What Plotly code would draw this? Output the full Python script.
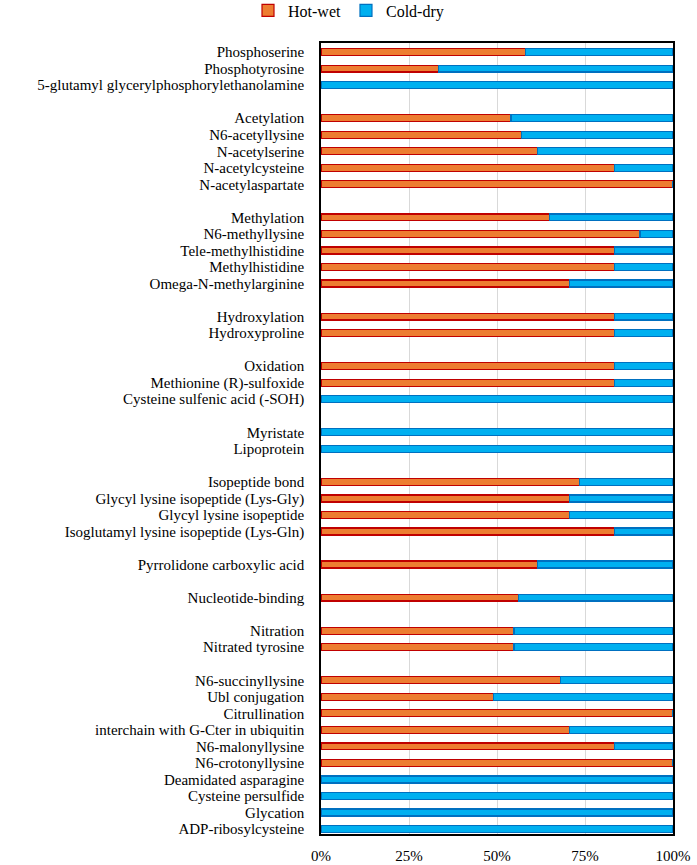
import plotly.graph_objects as go


##############################################################
# Data (share of each PTM class, %)
##############################################################

groups = [
    ["Phosphoserine", "Phosphotyrosine", "5-glutamyl glycerylphosphorylethanolamine"],
    ["Acetylation", "N6-acetyllysine", "N-acetylserine", "N-acetylcysteine", "N-acetylaspartate"],
    ["Methylation", "N6-methyllysine", "Tele-methylhistidine", "Methylhistidine",
     "Omega-N-methylarginine"],
    ["Hydroxylation", "Hydroxyproline"],
    ["Oxidation", "Methionine (R)-sulfoxide", "Cysteine sulfenic acid (-SOH)"],
    ["Myristate", "Lipoprotein"],
    ["Isopeptide bond", "Glycyl lysine isopeptide (Lys-Gly)", "Glycyl lysine isopeptide",
     "Isoglutamyl lysine isopeptide (Lys-Gln)"],
    ["Pyrrolidone carboxylic acid"],
    ["Nucleotide-binding"],
    ["Nitration", "Nitrated tyrosine"],
    ["N6-succinyllysine", "Ubl conjugation", "Citrullination",
     "interchain with G-Cter in ubiquitin", "N6-malonyllysine", "N6-crotonyllysine",
     "Deamidated asparagine", "Cysteine persulfide", "Glycation", "ADP-ribosylcysteine"],
]

hot_wet = [
    58, 33.3, 0,
    54, 57, 61.5, 83.3, 100,
    65, 90.6, 83.3, 83.3, 70.7,
    83.3, 83.3,
    83.3, 83.3, 0,
    0, 0,
    73.5, 70.7, 70.7, 83.3,
    61.5,
    56,
    54.8, 54.8,
    68, 49, 100, 70.7, 83.3, 100, 0, 0, 0, 0,
]

cold_dry = [
    42, 66.7, 100,
    46, 43, 38.5, 16.7, 0,
    35, 9.4, 16.7, 16.7, 29.3,
    16.7, 16.7,
    16.7, 16.7, 100,
    100, 100,
    26.5, 29.3, 29.3, 16.7,
    38.5,
    44,
    45.2, 45.2,
    32, 51, 0, 29.3, 16.7, 0, 100, 100, 100, 100,
]

x_ticks = [0, 25, 50, 75, 100]


##############################################################
# Row positions: one blank row between groups
##############################################################

labels = []
rows = []
pos = 0
for g in groups:
    for name in g:
        labels.append(name)
        rows.append(pos)
        pos += 1
    pos += 1
last_row = rows[-1]


##############################################################
# Figure
##############################################################

FONT = "Liberation Serif"

fig = go.Figure()

fig.add_trace(
    go.Bar(
        y=rows,
        x=hot_wet,
        orientation="h",
        name="Hot-wet",
        width=0.42,
        marker=dict(color="#ED7D31", line=dict(color="#C00000", width=1.2)),
    )
)

fig.add_trace(
    go.Bar(
        y=rows,
        x=cold_dry,
        orientation="h",
        name="Cold-dry",
        width=0.42,
        marker=dict(color="#00B0F0", line=dict(color="#0070C0", width=1.2)),
    )
)

fig.update_layout(
    barmode="stack",
    width=697,
    height=865,
    margin=dict(l=321, r=24, t=43, b=31, autoexpand=False),
    plot_bgcolor="white",
    paper_bgcolor="white",
    font=dict(family=FONT, size=15, color="#000000"),
    showlegend=True,
    legend=dict(
        orientation="h",
        xref="container",
        yref="container",
        x=0.5,
        xanchor="center",
        y=0.988,
        yanchor="middle",
        font=dict(family=FONT, size=16),
        itemwidth=30,
        traceorder="normal",
    ),
)

fig.update_xaxes(
    range=[0, 100],
    tickvals=x_ticks,
    ticktext=[f"{t}%" for t in x_ticks],
    tickfont=dict(size=15),
    showgrid=True,
    gridcolor="#D9D9D9",
    gridwidth=1,
    showline=True,
    linecolor="#000000",
    linewidth=1.5,
    mirror=True,
    ticks="outside",
    ticklen=7,
    tickcolor="rgba(0,0,0,0)",
    zeroline=False,
)

fig.update_yaxes(
    range=[last_row + 0.3, -0.55],
    tickvals=rows,
    ticktext=labels,
    showgrid=False,
    showline=True,
    linecolor="#000000",
    linewidth=1.5,
    mirror=True,
    ticks="outside",
    ticklen=12,
    tickcolor="rgba(0,0,0,0)",
    zeroline=False,
)

# page has an 8px body margin by default; drop it so the figure fills the window
fig.write_html(
    "out.html",
    config={"displayModeBar": False},
    post_script="document.body.style.margin='0';",
)
